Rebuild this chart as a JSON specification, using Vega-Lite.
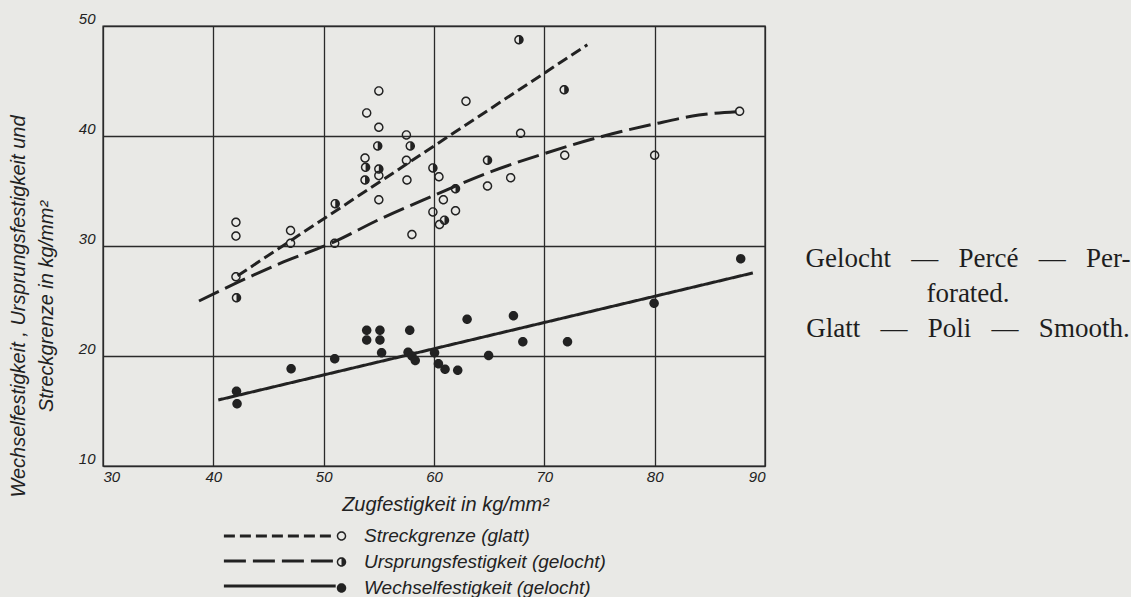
{
  "$schema": "https://vega.github.io/schema/vega-lite/v6.json",
  "background": "#e9e9e6",
  "padding": {"left": 7, "top": 10, "right": 0, "bottom": 0},
  "spacing": 0,
  "config": {
    "view": {"stroke": null},
    "font": "Liberation Sans",
    "axis": {
      "grid": true,
      "gridColor": "#2a2a2a",
      "gridWidth": 1.3,
      "gridOpacity": 1,
      "domain": false,
      "ticks": false,
      "labelFont": "Liberation Sans",
      "labelFontStyle": "italic",
      "labelFontSize": 15,
      "labelColor": "#222222",
      "titleFont": "Liberation Sans",
      "titleFontStyle": "italic",
      "titleFontWeight": "normal",
      "titleFontSize": 20,
      "titleColor": "#222222"
    },
    "legend": {
      "labelFont": "Liberation Sans",
      "labelFontStyle": "italic",
      "labelColor": "#222222",
      "labelLimit": 400
    }
  },
  "datasets": {
    "punkte": [
      {"reihe": "Streckgrenze (glatt)", "zug": 55.0, "festigkeit": 44.1},
      {"reihe": "Streckgrenze (glatt)", "zug": 53.9, "festigkeit": 42.1},
      {"reihe": "Streckgrenze (glatt)", "zug": 62.9, "festigkeit": 43.15},
      {"reihe": "Streckgrenze (glatt)", "zug": 55.0, "festigkeit": 40.8},
      {"reihe": "Streckgrenze (glatt)", "zug": 57.5, "festigkeit": 40.1},
      {"reihe": "Streckgrenze (glatt)", "zug": 53.75, "festigkeit": 38.0},
      {"reihe": "Streckgrenze (glatt)", "zug": 57.5, "festigkeit": 37.8},
      {"reihe": "Streckgrenze (glatt)", "zug": 60.45, "festigkeit": 36.3},
      {"reihe": "Streckgrenze (glatt)", "zug": 57.55, "festigkeit": 36.0},
      {"reihe": "Streckgrenze (glatt)", "zug": 55.0, "festigkeit": 36.4},
      {"reihe": "Streckgrenze (glatt)", "zug": 55.0, "festigkeit": 34.2},
      {"reihe": "Streckgrenze (glatt)", "zug": 60.85, "festigkeit": 34.2},
      {"reihe": "Streckgrenze (glatt)", "zug": 59.9, "festigkeit": 33.1},
      {"reihe": "Streckgrenze (glatt)", "zug": 61.95, "festigkeit": 33.2},
      {"reihe": "Streckgrenze (glatt)", "zug": 64.85, "festigkeit": 35.45},
      {"reihe": "Streckgrenze (glatt)", "zug": 66.95, "festigkeit": 36.2},
      {"reihe": "Streckgrenze (glatt)", "zug": 67.85, "festigkeit": 40.25},
      {"reihe": "Streckgrenze (glatt)", "zug": 71.85, "festigkeit": 38.25},
      {"reihe": "Streckgrenze (glatt)", "zug": 80.0, "festigkeit": 38.25},
      {"reihe": "Streckgrenze (glatt)", "zug": 87.7, "festigkeit": 42.25},
      {"reihe": "Streckgrenze (glatt)", "zug": 60.5, "festigkeit": 31.95},
      {"reihe": "Streckgrenze (glatt)", "zug": 58.0, "festigkeit": 31.05},
      {"reihe": "Streckgrenze (glatt)", "zug": 42.05, "festigkeit": 32.15},
      {"reihe": "Streckgrenze (glatt)", "zug": 42.05, "festigkeit": 30.9},
      {"reihe": "Streckgrenze (glatt)", "zug": 47.0, "festigkeit": 31.4},
      {"reihe": "Streckgrenze (glatt)", "zug": 47.0, "festigkeit": 30.25},
      {"reihe": "Streckgrenze (glatt)", "zug": 51.0, "festigkeit": 30.25},
      {"reihe": "Streckgrenze (glatt)", "zug": 42.05, "festigkeit": 27.2},
      {"reihe": "Ursprungsfestigkeit (gelocht)", "zug": 54.9, "festigkeit": 39.1},
      {"reihe": "Ursprungsfestigkeit (gelocht)", "zug": 57.85, "festigkeit": 39.1},
      {"reihe": "Ursprungsfestigkeit (gelocht)", "zug": 53.8, "festigkeit": 37.15},
      {"reihe": "Ursprungsfestigkeit (gelocht)", "zug": 55.0, "festigkeit": 37.0},
      {"reihe": "Ursprungsfestigkeit (gelocht)", "zug": 53.75, "festigkeit": 36.0},
      {"reihe": "Ursprungsfestigkeit (gelocht)", "zug": 59.9, "festigkeit": 37.1},
      {"reihe": "Ursprungsfestigkeit (gelocht)", "zug": 51.05, "festigkeit": 33.85},
      {"reihe": "Ursprungsfestigkeit (gelocht)", "zug": 61.95, "festigkeit": 35.2},
      {"reihe": "Ursprungsfestigkeit (gelocht)", "zug": 60.95, "festigkeit": 32.35},
      {"reihe": "Ursprungsfestigkeit (gelocht)", "zug": 67.7, "festigkeit": 48.75},
      {"reihe": "Ursprungsfestigkeit (gelocht)", "zug": 71.8, "festigkeit": 44.2},
      {"reihe": "Ursprungsfestigkeit (gelocht)", "zug": 64.85, "festigkeit": 37.8},
      {"reihe": "Ursprungsfestigkeit (gelocht)", "zug": 42.1, "festigkeit": 25.3},
      {"reihe": "Wechselfestigkeit (gelocht)", "zug": 42.1, "festigkeit": 16.8},
      {"reihe": "Wechselfestigkeit (gelocht)", "zug": 42.15, "festigkeit": 15.65},
      {"reihe": "Wechselfestigkeit (gelocht)", "zug": 47.05, "festigkeit": 18.85},
      {"reihe": "Wechselfestigkeit (gelocht)", "zug": 51.0, "festigkeit": 19.75},
      {"reihe": "Wechselfestigkeit (gelocht)", "zug": 53.9, "festigkeit": 22.35},
      {"reihe": "Wechselfestigkeit (gelocht)", "zug": 53.9, "festigkeit": 21.45},
      {"reihe": "Wechselfestigkeit (gelocht)", "zug": 55.1, "festigkeit": 22.35},
      {"reihe": "Wechselfestigkeit (gelocht)", "zug": 55.1, "festigkeit": 21.45},
      {"reihe": "Wechselfestigkeit (gelocht)", "zug": 55.25, "festigkeit": 20.3},
      {"reihe": "Wechselfestigkeit (gelocht)", "zug": 57.8, "festigkeit": 22.35},
      {"reihe": "Wechselfestigkeit (gelocht)", "zug": 57.65, "festigkeit": 20.35},
      {"reihe": "Wechselfestigkeit (gelocht)", "zug": 58.0, "festigkeit": 20.0},
      {"reihe": "Wechselfestigkeit (gelocht)", "zug": 58.3, "festigkeit": 19.6},
      {"reihe": "Wechselfestigkeit (gelocht)", "zug": 60.05, "festigkeit": 20.3},
      {"reihe": "Wechselfestigkeit (gelocht)", "zug": 60.4, "festigkeit": 19.3},
      {"reihe": "Wechselfestigkeit (gelocht)", "zug": 61.0, "festigkeit": 18.8},
      {"reihe": "Wechselfestigkeit (gelocht)", "zug": 62.15, "festigkeit": 18.7},
      {"reihe": "Wechselfestigkeit (gelocht)", "zug": 63.0, "festigkeit": 23.35},
      {"reihe": "Wechselfestigkeit (gelocht)", "zug": 64.95, "festigkeit": 20.05},
      {"reihe": "Wechselfestigkeit (gelocht)", "zug": 67.2, "festigkeit": 23.65},
      {"reihe": "Wechselfestigkeit (gelocht)", "zug": 68.05, "festigkeit": 21.3},
      {"reihe": "Wechselfestigkeit (gelocht)", "zug": 72.1, "festigkeit": 21.3},
      {"reihe": "Wechselfestigkeit (gelocht)", "zug": 79.95, "festigkeit": 24.8},
      {"reihe": "Wechselfestigkeit (gelocht)", "zug": 87.8, "festigkeit": 28.85}
    ],
    "kurven": [
      {"kurve": "Streckgrenze", "zug": 42.2, "festigkeit": 27.3},
      {"kurve": "Streckgrenze", "zug": 73.9, "festigkeit": 48.3},
      {"kurve": "Ursprungsfestigkeit", "zug": 38.7, "festigkeit": 25.0},
      {"kurve": "Ursprungsfestigkeit", "zug": 42.0, "festigkeit": 26.6},
      {"kurve": "Ursprungsfestigkeit", "zug": 46.0, "festigkeit": 28.4},
      {"kurve": "Ursprungsfestigkeit", "zug": 51.0, "festigkeit": 30.4},
      {"kurve": "Ursprungsfestigkeit", "zug": 55.0, "festigkeit": 32.4},
      {"kurve": "Ursprungsfestigkeit", "zug": 60.0, "festigkeit": 34.6},
      {"kurve": "Ursprungsfestigkeit", "zug": 65.0, "festigkeit": 36.7},
      {"kurve": "Ursprungsfestigkeit", "zug": 70.0, "festigkeit": 38.4},
      {"kurve": "Ursprungsfestigkeit", "zug": 75.0, "festigkeit": 39.9},
      {"kurve": "Ursprungsfestigkeit", "zug": 80.0, "festigkeit": 41.1},
      {"kurve": "Ursprungsfestigkeit", "zug": 84.0, "festigkeit": 41.9},
      {"kurve": "Ursprungsfestigkeit", "zug": 88.0, "festigkeit": 42.25},
      {"kurve": "Wechselfestigkeit", "zug": 40.45, "festigkeit": 16.0},
      {"kurve": "Wechselfestigkeit", "zug": 88.9, "festigkeit": 27.55}
    ],
    "hinweis": [
      {"zeile": 1, "text": "Gelocht \u00a0\u00a0—\u00a0\u00a0 Percé \u00a0\u00a0—\u00a0\u00a0 Per-"},
      {"zeile": 2, "text": "forated."},
      {"zeile": 3, "text": "Glatt \u00a0\u00a0—\u00a0\u00a0 Poli \u00a0\u00a0—\u00a0\u00a0 Smooth."}
    ]
  },
  "hconcat": [
    {
      "width": 662,
      "height": 440,
      "view": {"stroke": "#2a2a2a", "strokeWidth": 1.4},
      "encoding": {
        "x": {
          "field": "zug",
          "type": "quantitative",
          "scale": {"domain": [30, 90], "nice": false, "zero": false},
          "axis": {
            "values": [30, 40, 50, 60, 70, 80, 90],
            "title": "Zugfestigkeit in kg/mm²",
            "labelPadding": 3,
            "titlePadding": 10,
            "titleX": 342
          }
        },
        "y": {
          "field": "festigkeit",
          "type": "quantitative",
          "scale": {"domain": [10, 50], "nice": false, "zero": false},
          "axis": {
            "values": [10, 20, 30, 40, 50],
            "title": ["Wechselfestigkeit , Ursprungsfestigkeit und", "\u2003\u2003\u2003\u2003Streckgrenze in kg/mm²"],
            "titleLineHeight": 28,
            "titleY": 280,
            "titlePadding": 22,
            "labelPadding": 8,
            "labelBaseline": "alphabetic",
            "labelOffset": -3
          }
        }
      },
      "layer": [
        {
          "data": {"name": "kurven"},
          "mark": {"type": "line", "strokeWidth": 3, "color": "#222222", "interpolate": "monotone", "strokeCap": "butt"},
          "encoding": {
            "strokeDash": {
              "field": "kurve",
              "type": "nominal",
              "scale": {
                "domain": ["Streckgrenze", "Ursprungsfestigkeit", "Wechselfestigkeit"],
                "range": [[11, 5], [22, 7], [1, 0]]
              },
              "legend": {
                "orient": "none",
                "legendX": 224.7,
                "legendY": 502,
                "title": null,
                "padding": 0,
                "symbolType": "M-20,0H0",
                "symbolSize": 125,
                "symbolStrokeWidth": 3,
                "symbolStrokeColor": "#222222",
                "labelExpr": "''",
                "labelFontSize": 16,
                "rowPadding": 9
              }
            }
          }
        },
        {
          "data": {"name": "punkte"},
          "mark": {"type": "point", "filled": true, "color": "#222222", "size": 90, "opacity": 1, "strokeWidth": 0},
          "encoding": {
            "shape": {
              "field": "reihe",
              "type": "nominal",
              "scale": {
                "domain": ["Streckgrenze (glatt)", "Ursprungsfestigkeit (gelocht)", "Wechselfestigkeit (gelocht)"],
                "range": [
                  "M-1,0A1,1,0,1,1,1,0A1,1,0,1,1,-1,0Z M-0.7,0A0.7,0.7,0,1,0,0.7,0A0.7,0.7,0,1,0,-0.7,0Z",
                  "M-1,0A1,1,0,1,1,1,0A1,1,0,1,1,-1,0Z M-0.7,0A0.7,0.7,0,1,0,0.7,0A0.7,0.7,0,1,0,-0.7,0Z M0,-0.7A0.7,0.7,0,0,1,0,0.7Z",
                  "M-1,0A1,1,0,1,1,1,0A1,1,0,1,1,-1,0Z"
                ]
              },
              "legend": {
                "orient": "none",
                "legendX": 229,
                "legendY": 500.5,
                "title": null,
                "padding": 0,
                "symbolSize": 90,
                "symbolFillColor": "#222222",
                "symbolStrokeWidth": 0,
                "symbolOpacity": 1,
                "labelFontSize": 19,
                "labelOffset": 13,
                "labelLimit": 400,
                "rowPadding": 6
              }
            }
          }
        }
      ]
    },
    {
      "width": 300,
      "height": 440,
      "data": {"name": "hinweis"},
      "mark": {"type": "text", "font": "Liberation Serif", "fontSize": 27, "color": "#1e1e1e", "align": "center", "baseline": "alphabetic", "dx": 52},
      "encoding": {
        "y": {"field": "zeile", "type": "ordinal", "scale": {"type": "point", "range": [241, 311], "padding": 0}, "axis": null},
        "text": {"field": "text"}
      }
    }
  ]
}
